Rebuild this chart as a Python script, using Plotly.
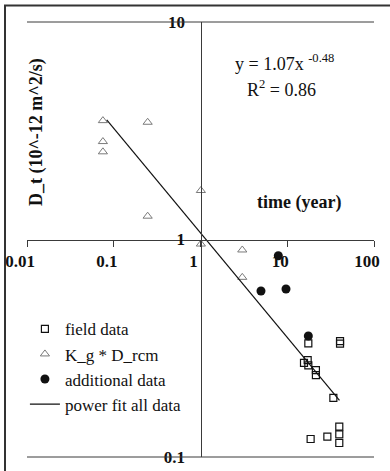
import plotly.graph_objects as go

# ---- data ----
field_x = [17.5, 40.6, 40.6, 17.2, 15.6, 17.5, 21.4, 21.4, 34.0, 18.6, 29.0, 39.8, 39.8, 39.8]
field_y = [0.333, 0.341, 0.332, 0.279, 0.271, 0.264, 0.251, 0.238, 0.187, 0.121, 0.124, 0.138, 0.127, 0.116]

kg_x = [0.075, 0.075, 0.075, 0.246, 0.246, 1.01, 1.01, 3.03, 3.03]
kg_y = [3.52, 2.82, 2.53, 3.46, 1.28, 1.68, 0.953, 0.895, 0.670]

add_x = [7.89, 4.98, 9.67, 17.5]
add_y = [0.842, 0.580, 0.592, 0.360]

fit_x = [0.083, 40.0]
fit_y = [3.55, 0.182]

x_ticks = [0.01, 0.1, 1, 10, 100]
x_ticktext = ["0.01", "0.1", "1", "10", "100"]
y_ticks = [0.1, 1, 10]
y_ticktext = ["0.1", "1", "10"]

SERIF = "Liberation Serif"
AX = "#3a3a3a"
INK = "#111111"

fig = go.Figure()
fig.add_trace(go.Scatter(x=field_x, y=field_y, mode="markers", name="field data",
                         marker=dict(symbol="square-open", size=7, color=INK,
                                     line=dict(width=1.2))))
fig.add_trace(go.Scatter(x=kg_x, y=kg_y, mode="markers", name="K_g * D_rcm",
                         marker=dict(symbol="triangle-up-open", size=8, color="#7a7a7a",
                                     line=dict(width=1))))
fig.add_trace(go.Scatter(x=add_x, y=add_y, mode="markers", name="additional data",
                         marker=dict(symbol="circle", size=9, color=INK)))
fig.add_trace(go.Scatter(x=fit_x, y=fit_y, mode="lines", name="power fit all data",
                         line=dict(color=INK, width=1.2)))

fig.update_layout(
    template="none",
    width=390, height=471,
    margin=dict(l=27, r=16, t=22, b=14, pad=0, autoexpand=False),
    paper_bgcolor="white", plot_bgcolor="white",
    font=dict(family=SERIF, color=INK),
    showlegend=True,
    legend=dict(x=-0.006, y=0.335, xanchor="left", yanchor="top",
                bgcolor="rgba(0,0,0,0)", borderwidth=0,
                font=dict(family=SERIF, size=17, color=INK),
                itemwidth=30, tracegroupgap=0),
    xaxis=dict(type="log", range=[-2, 2], anchor="free", position=0.5,
               automargin=False,
               tickmode="array", tickvals=x_ticks, ticktext=x_ticktext,
               ticks="outside", ticklen=6, tickcolor=AX, tickwidth=1,
               showline=True, linecolor=AX, linewidth=1,
               showgrid=False, zeroline=False,
               ticklabelstandoff=0, ticklabelshift=-7,
               tickfont=dict(family=SERIF, size=17, weight="bold", color=INK)),
    yaxis=dict(type="log", range=[-1, 1], anchor="free", position=0.5,
               automargin=False,
               tickmode="array", tickvals=y_ticks, ticktext=y_ticktext,
               ticks="", showline=True, linecolor=AX, linewidth=1,
               showgrid=False, zeroline=False,
               ticklabelstandoff=12,
               tickfont=dict(family=SERIF, size=17, weight="bold", color=INK)),
)

# top / bottom horizontal lines (y = 10 and y = 0.1)
for yv in (0, 1):
    fig.add_shape(type="line", xref="paper", yref="paper", x0=0, x1=1, y0=yv, y1=yv,
                  line=dict(color=AX, width=1))

# outer frame (cropped at right/bottom in reference)
fig.add_shape(type="rect", xref="paper", yref="paper",
              x0=-0.0634, x1=1.08, y0=-0.06, y1=1.038,
              line=dict(color="#333333", width=2))

ann = dict(xref="paper", yref="paper", showarrow=False, xanchor="center", yanchor="middle")
fig.add_annotation(text="<b>D_t (10^-12 m^2/s)</b>", x=0.026, y=0.747, textangle=-90,
                   font=dict(family=SERIF, size=18, color=INK), **ann)
fig.add_annotation(text="<b>time (year)</b>", x=0.784, y=0.586,
                   font=dict(family=SERIF, size=18, color=INK), **ann)
fig.add_annotation(text="y = 1.07x <sup>-0.48</sup>", x=0.742, y=0.906,
                   font=dict(family=SERIF, size=18, color=INK), **ann)
fig.add_annotation(text="R<sup>2</sup> = 0.86", x=0.732, y=0.848,
                   font=dict(family=SERIF, size=18, color=INK), **ann)

fig.write_html("out.html", config={"displayModeBar": False},
               post_script="document.body.style.margin='0px';")
